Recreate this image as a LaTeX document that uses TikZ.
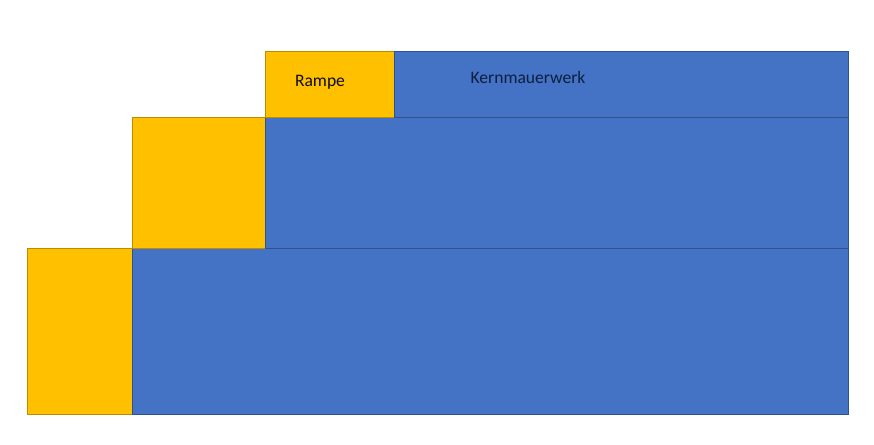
\documentclass[tikz,border=0pt]{standalone}
\usepackage{fontspec}
\setmainfont{Carlito}
\definecolor{rmyellow}{HTML}{FFC000}
\definecolor{rmyellowline}{HTML}{BC8C00}
\definecolor{rmblue}{HTML}{4472C4}
\definecolor{rmblueline}{HTML}{2F528F}
\definecolor{rmink}{HTML}{0D0D0D}
\definecolor{rmnavy}{HTML}{0E1F40}
\tikzset{
  rm ramp/.style={fill=rmyellow, draw=rmyellowline, line width=0.5pt},
  rm core/.style={fill=rmblue, draw=rmblueline, line width=0.5pt},
  rm label/.style={font=\fontsize{10}{12}\selectfont, inner sep=0pt}
}
\begin{document}
\begin{tikzpicture}[x=0.02cm, y=-0.02cm]
  \useasboundingbox (0,0) rectangle (874,444);

  % lowest step
  \draw[rm ramp] (27,248) rectangle (132,414);
  \draw[rm core] (132,248) rectangle (848,414);

  % middle step
  \draw[rm ramp] (132,117) rectangle (265,248);
  \draw[rm core] (265,117) rectangle (848,248);

  % top step
  \draw[rm ramp] (265,51) rectangle (394,117);
  \draw[rm core] (394,51) rectangle (848,117);

  \node[rm label, text=rmink] (rampe) at (320,82) {Rampe};
  \node[rm label, text=rmnavy] (kern) at (528,77) {Kernmauerwerk};
\end{tikzpicture}
\end{document}
